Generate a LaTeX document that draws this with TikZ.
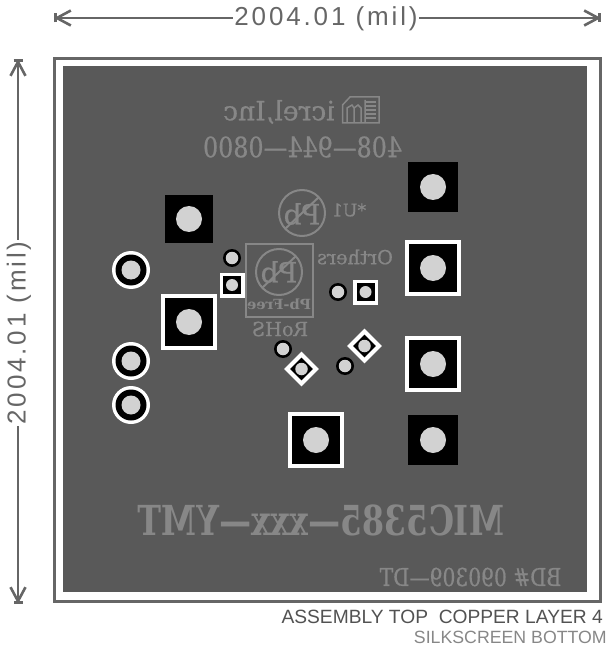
\documentclass[tikz,border=0pt]{standalone}
\usepackage{fontspec}
\setmainfont{DejaVu Serif}
\newfontfamily\cad[LetterSpace=11]{Liberation Sans}
\newfontfamily\cadn{Liberation Sans}
\newfontfamily\silkf[FakeBold=0.7]{DejaVu Serif}
\usetikzlibrary{arrows.meta,shapes.geometric}
\definecolor{board}{HTML}{595959}
\definecolor{silk}{HTML}{878787}
\definecolor{padc}{HTML}{D2D2D2}
\definecolor{dimc}{HTML}{666666}
\def\px{0.75pt}
\tikzset{
  sq/.style={shape=rectangle,fill=#1,draw=none,inner sep=0pt},
  rnd/.style={shape=circle,fill=#1,draw=none,inner sep=0pt},
  dia/.style={shape=diamond,aspect=1,fill=#1,draw=none,inner sep=0pt},
  sz/.style={minimum size=#1*\px},
  silktext/.style={text=silk,inner sep=0pt,transform shape,font=#1},
  silkline/.style={draw=silk,line width=2*\px},
  tipstart/.style={draw=dimc,line width=2.6*\px,{Bar[width=9*\px,line width=2.6*\px] Straight Barb[length=14*\px,width=15*\px,line width=2.6*\px,sep=-2.5*\px]}-},
  tipend/.style={draw=dimc,line width=2.6*\px,-{Straight Barb[length=14*\px,width=15*\px,line width=2.6*\px,sep=-2.5*\px] Bar[width=9*\px,line width=2.6*\px]}},
  dimtext/.style={text=dimc,inner sep=1pt,font=\fontsize{19.5pt}{22pt}\cad},
}
\begin{document}
\begin{tikzpicture}[x=0.75pt,y=-0.75pt]
\useasboundingbox (0,0) rectangle (608,648);
% frame and board
\draw[draw=dimc,line width=3*\px,fill=white] (54,58.5) rectangle (600,601);
\fill[board] (63,66) rectangle (587,592);
% dimensions
\node[dimtext] (dimtop) at (326,19) {2004.01 (mil)};
\coordinate (tl) at (54,18); \coordinate (tr) at (601,18);
\draw[tipstart] (tl) -- (dimtop.west |- tl);
\draw[tipend] (dimtop.east |- tr) -- (tr);
\node[dimtext,rotate=90] (dimleft) at (19,333) {2004.01 (mil)};
\coordinate (lt) at (18,59); \coordinate (lb) at (18,604);
\draw[tipstart] (lt) -- (lt |- dimleft.east);
\draw[tipend] (lb |- dimleft.west) -- (lb);
% captions
\node[anchor=east,inner sep=0pt,text=black!68,font=\fontsize{14.4pt}{17pt}\cadn] (cap1) at (603,617) {ASSEMBLY TOP\ \ COPPER LAYER 4};
\node[anchor=east,inner sep=0pt,text=silk,font=\fontsize{13.3pt}{17pt}\cadn] (cap2) at (607,637) {SILKSCREEN BOTTOM};
% large plain pads
\foreach \n/\x/\y/\s in {a/189/219/48,b/433/187/50,c/433/440/50}{
  \node[sq=black,sz=\s] (\n) at (\x,\y) {};
  \node[rnd=padc,sz=26] at (\n) {};
}
% large bordered pads
\foreach \n/\x/\y in {d/189/322,e/433/268,f/433/364,g/316/440}{
  \node[sq=white,sz=56] (\n) at (\x,\y) {};
  \node[sq=black,sz=48] at (\n) {};
  \node[rnd=padc,sz=26] at (\n) {};
}
% ringed pads
\foreach \n/\x/\y in {h/131/270,i/131/361,j/131/405}{
  \node[rnd=white,sz=38] (\n) at (\x,\y) {};
  \node[rnd=black,sz=31] at (\n) {};
  \node[rnd=padc,sz=19] at (\n) {};
}
% vias
\foreach \n/\x/\y in {k/232/258,l/338/292,m/283/349,o/345/366}{
  \node[rnd=black,sz=18] (\n) at (\x,\y) {};
  \node[rnd=padc,sz=12.5] at (\n) {};
}
% small square pads
\foreach \n/\x/\y in {p/232/285,q/365.5/292}{
  \node[sq=white,sz=25] (\n) at (\x,\y) {};
  \node[sq=black,sz=18] at (\n) {};
  \node[rnd=padc,sz=12] at (\n) {};
}
% diamond pads
\foreach \n/\x/\y in {r/301.5/369,s/364.5/346}{
  \node[dia=white,sz=35] (\n) at (\x,\y) {};
  \node[dia=black,sz=23] at (\n) {};
  \node[rnd=padc,sz=12.5] at (\n) {};
}
% silkscreen
\node[silktext=\fontsize{20pt}{22pt}\silkf,xscale=-1] (inc) at (279,112) {icrel,Inc};
\node[silktext=\fontsize{21pt}{24pt}\silkf,xscale=-.85] (tel) at (302.5,147) {408—944—0800};
\node[silktext=\fontsize{13pt}{15pt}\silkf,xscale=-1] (u1) at (349,210) {*U1};
\node[silktext=\fontsize{14.5pt}{16pt}\silkf,xscale=-1] (oth) at (355,257) {Orthers};
\node[silktext=\fontsize{14.5pt}{16pt}\silkf,xscale=-1] (rohs) at (280,329) {RoHS};
\node[silktext=\fontsize{10.5pt}{12pt}\bfseries,xscale=-1.05] (free) at (279,304) {Pb-Free};
\node[silktext=\fontsize{21pt}{24pt}\silkf,xscale=-1] (pb1) at (302,214) {Pb};
\node[silktext=\fontsize{21pt}{24pt}\silkf,xscale=-1] (pb2) at (279,272) {Pb};
\node[silktext=\fontsize{31pt}{34pt}\bfseries,xscale=-.77] (part) at (321,520) {MIC5385—xxx—YMT};
\node[silktext=\fontsize{18.5pt}{20pt}\silkf,xscale=-.82] (bd) at (470.5,577) {BD\# 090309—DT};
\draw[silkline] (245.5,244.5) rectangle (313,317);
\draw[silkline] (302,213) circle (23);
\draw[silkline] (285,229) -- (319,197);
\draw[silkline] (279,272) circle (23);
\draw[silkline] (262,288) -- (296,256);
% logo
\draw[silkline,line width=1.5*\px] (342.5,123) -- (342.5,105) -- (350,97) -- (379,97) -- (379,123) -- cycle;
\draw[silkline,line width=1.5*\px] (347,123) -- (347,108) -- (352,105) -- (354,108) -- (354,123) (354,108) -- (358,105) -- (361,108) -- (361,123) (365,123) -- (365,100);
\draw[silkline,line width=1.5*\px] (365,102) -- (376,102) (365,106) -- (376,106) (365,110) -- (376,110) (365,114) -- (376,114) (365,118) -- (376,118);
\end{tikzpicture}
\end{document}
